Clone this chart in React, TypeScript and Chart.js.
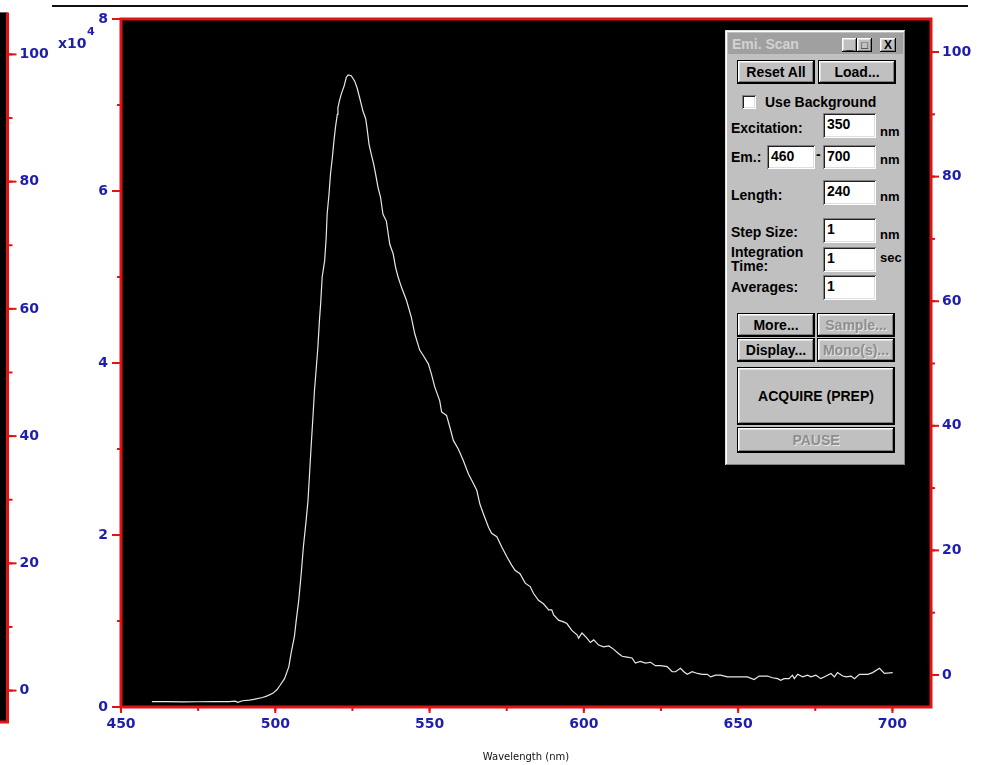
import React, { useEffect, useRef } from 'react';
import { Chart, registerables } from 'chart.js';

Chart.register(...registerables);

// ---- data (wavelength in nm, intensity in units of 10^4 counts) ----
const wavelengths = [
  460, 465, 470, 475, 480, 485.1, 487.0, 487.8, 489.4, 491.6,
  493.0, 495.9, 497.4, 499.2, 500.5, 501.5, 503.0, 504.4, 505.1, 506.2,
  506.8, 507.6, 508.4, 509.1, 510.0, 510.6, 511.1, 511.6, 512.2, 512.7,
  513.3, 513.8, 514.3, 514.7, 515.2, 516.0, 516.5, 516.8, 517.4, 517.9,
  518.5, 519.0, 519.5, 520.1, 520.3, 520.8, 521.4, 522.3, 523.0, 523.6,
  524.6, 525.7, 526.5, 527.3, 528.4, 529.3, 529.7, 530.4, 531.1, 531.9,
  532.5, 533.3, 534.1, 534.9, 536.0, 536.6, 537.1, 538.2, 539.0, 539.8,
  540.9, 542.5, 544.1, 545.2, 546.8, 547.9, 549.6, 550.6, 551.7, 553.3,
  553.9, 555.5, 556.6, 557.7, 559.3, 560.9, 562.6, 564.2, 565.3, 566.3,
  567.4, 569.1, 570.1, 571.8, 573.4, 575.0, 576.6, 577.7, 579.3, 581.0,
  582.6, 583.7, 585.3, 586.9, 588.6, 589.6, 590.2, 591.8, 593.4, 594.5,
  596.1, 597.8, 598.3, 599.4, 601.0, 602.1, 603.2, 604.8, 606.4, 608.1,
  609.7, 611.3, 612.4, 614.0, 615.6, 616.7, 618.3, 620.0, 621.6, 623.2,
  624.8, 627.0, 628.6, 629.7, 631.3, 632.4, 633.5, 635.1, 636.8, 638.4,
  640.0, 641.1, 642.7, 644.3, 646.5, 648.7, 650.8, 653.0, 655.2, 656.8,
  659.5, 661.1, 662.8, 663.8, 664.9, 666.5, 667.6, 668.2, 669.3, 670.9,
  672.5, 673.6, 675.2, 676.8, 678.5, 680.1, 681.2, 682.2, 683.9, 685.0,
  686.6, 687.7, 689.3, 692.0, 693.6, 695.8, 697.4, 700.1,
];

const intensity = [
  0.062, 0.062, 0.060, 0.061, 0.062, 0.062, 0.068, 0.055, 0.073, 0.081,
  0.088, 0.110, 0.130, 0.159, 0.20, 0.25, 0.33, 0.47, 0.62, 0.82,
  1.01, 1.24, 1.55, 1.86, 2.17, 2.40, 2.71, 3.02, 3.37, 3.68,
  3.95, 4.18, 4.49, 4.69, 5.00, 5.19, 5.46, 5.73, 5.96, 6.20,
  6.39, 6.58, 6.74, 6.89, 6.97, 7.05, 7.13, 7.22, 7.32, 7.35,
  7.34, 7.28, 7.20, 7.09, 6.93, 6.84, 6.74, 6.54, 6.43, 6.31,
  6.20, 6.04, 5.93, 5.73, 5.65, 5.50, 5.38, 5.27, 5.11, 5.00,
  4.88, 4.73, 4.53, 4.34, 4.15, 4.09, 3.99, 3.87, 3.72, 3.56,
  3.43, 3.39, 3.25, 3.10, 3.00, 2.87, 2.71, 2.60, 2.52, 2.36,
  2.25, 2.09, 2.02, 1.98, 1.86, 1.75, 1.65, 1.59, 1.55, 1.44,
  1.40, 1.32, 1.24, 1.20, 1.13, 1.13, 1.07, 1.01, 0.99, 0.97,
  0.89, 0.84, 0.80, 0.86, 0.80, 0.75, 0.78, 0.72, 0.70, 0.71,
  0.67, 0.62, 0.59, 0.58, 0.57, 0.51, 0.53, 0.51, 0.52, 0.48,
  0.48, 0.47, 0.41, 0.41, 0.45, 0.41, 0.38, 0.41, 0.39, 0.38,
  0.38, 0.35, 0.37, 0.37, 0.35, 0.35, 0.35, 0.35, 0.32, 0.36,
  0.36, 0.34, 0.33, 0.31, 0.33, 0.33, 0.37, 0.33, 0.38, 0.35,
  0.37, 0.35, 0.37, 0.33, 0.36, 0.39, 0.35, 0.40, 0.36, 0.35,
  0.36, 0.33, 0.38, 0.38, 0.40, 0.45, 0.39, 0.40,
];

// tick labels
const xTickLabels = [450, 500, 550, 600, 650, 700];
const leftTickLabels = [0, 2, 4, 6, 8];
const rightTickLabels = [0, 20, 40, 60, 80, 100];
const sidePanelTickLabels = [0, 20, 40, 60, 80, 100];

const RED = '#e01414';
const BLUE = '#1e1eae';
const TICK_FONT = { family: "'DejaVu Sans', sans-serif", size: 14, weight: 'bold' as const };
const UI_FONT = '"Liberation Sans", Arial, sans-serif';
const NONE = 'rgba(0,0,0,0)';

function strokeLine(ctx: any, x1: number, y1: number, x2: number, y2: number) {
  ctx.beginPath();
  ctx.moveTo(x1, y1);
  ctx.lineTo(x2, y2);
  ctx.stroke();
}

const mainPlugin = {
  id: 'mainFrame',
  beforeDraw(chart: any) {
    const { ctx, chartArea: a } = chart;
    ctx.save();
    ctx.fillStyle = '#000';
    ctx.fillRect(a.left, a.top, a.right - a.left, a.bottom - a.top);
    ctx.restore();
  },
  afterDraw(chart: any) {
    const { ctx, chartArea: a, scales } = chart;
    ctx.save();
    ctx.strokeStyle = RED;
    ctx.lineWidth = 2;
    // minor ticks at every scale step
    scales.x.ticks.forEach((t: any) => {
      const p = scales.x.getPixelForValue(t.value);
      strokeLine(ctx, p, a.bottom, p, a.bottom + 4);
    });
    scales.y.ticks.forEach((t: any) => {
      const p = scales.y.getPixelForValue(t.value);
      strokeLine(ctx, a.left - 4, p, a.left, p);
    });
    scales.y2.ticks.forEach((t: any) => {
      const p = scales.y2.getPixelForValue(t.value);
      strokeLine(ctx, a.right, p, a.right + 4, p);
    });
    // longer ticks at labelled values
    xTickLabels.forEach((v) => {
      const p = scales.x.getPixelForValue(v);
      strokeLine(ctx, p, a.bottom, p, a.bottom + 6);
    });
    leftTickLabels.forEach((v) => {
      const p = scales.y.getPixelForValue(v);
      strokeLine(ctx, a.left - 9, p, a.left, p);
    });
    rightTickLabels.forEach((v) => {
      const p = scales.y2.getPixelForValue(v);
      strokeLine(ctx, a.right, p, a.right + 8, p);
    });
    ctx.lineWidth = 3;
    ctx.strokeRect(a.left, a.top, a.right - a.left, a.bottom - a.top);
    ctx.restore();
  },
};

const sidePlugin = {
  id: 'sideFrame',
  beforeDraw(chart: any) {
    const { ctx, chartArea: a } = chart;
    ctx.save();
    ctx.fillStyle = '#000';
    ctx.fillRect(a.left, a.top, a.right - a.left, a.bottom - a.top);
    ctx.restore();
  },
  afterDraw(chart: any) {
    const { ctx, chartArea: a, scales } = chart;
    ctx.save();
    ctx.strokeStyle = RED;
    ctx.lineWidth = 2;
    scales.y.ticks.forEach((t: any) => {
      const p = scales.y.getPixelForValue(t.value);
      strokeLine(ctx, a.right, p, a.right + 5, p);
    });
    sidePanelTickLabels.forEach((v) => {
      const p = scales.y.getPixelForValue(v);
      strokeLine(ctx, a.right, p, a.right + 9, p);
    });
    ctx.lineWidth = 3;
    ctx.beginPath();
    ctx.moveTo(a.right, a.top);
    ctx.lineTo(a.right, a.bottom);
    ctx.lineTo(a.left, a.bottom);
    ctx.stroke();
    ctx.restore();
  },
};

const raised = 'inset -1px -1px #000, inset 1px 1px #fff, inset -2px -2px #808080, inset 2px 2px #dfdfdf';
const sunken = 'inset 1px 1px #808080, inset -1px -1px #fff, inset 2px 2px #202020, inset -2px -2px #dfdfdf';

function Btn(p: { x: number; y: number; w: number; h: number; text: string; disabled?: boolean; border?: boolean; size?: number }) {
  return (
    <div
      style={{
        position: 'absolute', left: p.x, top: p.y, width: p.w, height: p.h, boxSizing: 'border-box',
        background: '#c0c0c0', boxShadow: raised, border: p.border === false ? 'none' : '1px solid #000',
        display: 'flex', alignItems: 'center', justifyContent: 'center',
        font: `bold ${p.size || 14}px ${UI_FONT}`, whiteSpace: 'nowrap',
        color: p.disabled ? '#8e8e8e' : '#000', textShadow: p.disabled ? '1px 1px 0 #e6e6e6' : 'none',
      }}
    >
      {p.text}
    </div>
  );
}

function Field(p: { x: number; y: number; w: number; h: number; value: string }) {
  return (
    <div
      style={{
        position: 'absolute', left: p.x, top: p.y, width: p.w, height: p.h, boxSizing: 'border-box',
        background: '#fff', boxShadow: sunken,
      }}
    >
      <div style={{ position: 'absolute', left: 4, top: 3, lineHeight: '16px', font: `bold 14px ${UI_FONT}`, color: '#000' }}>{p.value}</div>
    </div>
  );
}

function Txt(p: { x: number; cy: number; text: string; size?: number; color?: string }) {
  return (
    <div
      style={{
        position: 'absolute', left: p.x, top: p.cy - 8, lineHeight: '16px', whiteSpace: 'nowrap',
        font: `bold ${p.size || 14}px ${UI_FONT}`, color: p.color || '#000',
      }}
    >
      {p.text}
    </div>
  );
}

function Dialog() {
  return (
    <>
      <div style={{ position: 'absolute', left: 725, top: 30, width: 181, height: 436, background: '#c0c0c0', boxShadow: 'inset -1px -1px #000, inset 1px 1px #dfdfdf, inset -2px -2px #808080, inset 2px 2px #fff' }} />
      <div style={{ position: 'absolute', left: 728, top: 33, width: 175, height: 21, background: '#a0a0a0' }} />
      <Txt x={732} cy={44} text="Emi. Scan" color="#d2d2d2" />
      <Btn x={842} y={38} w={15} h={14} text="_" border={false} size={12} />
      <Btn x={857} y={38} w={15} h={14} text="□" border={false} size={11} />
      <Btn x={880} y={38} w={16} h={14} text="X" border={false} size={12} />

      <Btn x={737} y={60} w={78} h={24} text="Reset All" />
      <Btn x={818} y={60} w={78} h={24} text="Load..." />

      <div style={{ position: 'absolute', left: 742, top: 95, width: 14, height: 14, background: '#fff', boxShadow: sunken }} />
      <Txt x={765} cy={102} text="Use Background" />

      <Txt x={731} cy={128} text="Excitation:" />
      <Field x={823} y={113} w={53} h={25} value="350" />
      <Txt x={880} cy={132} text="nm" size={13} />

      <Txt x={731} cy={157} text="Em.:" />
      <Field x={767} y={145} w={48} h={24} value="460" />
      <Txt x={816} cy={154} text="-" />
      <Field x={823} y={145} w={53} h={24} value="700" />
      <Txt x={880} cy={160} text="nm" size={13} />

      <Txt x={731} cy={195} text="Length:" />
      <Field x={823} y={180} w={53} h={25} value="240" />
      <Txt x={880} cy={197} text="nm" size={13} />

      <Txt x={731} cy={232} text="Step Size:" />
      <Field x={823} y={218} w={53} h={25} value="1" />
      <Txt x={880} cy={235} text="nm" size={13} />

      <Txt x={731} cy={252} text="Integration" />
      <Txt x={731} cy={266} text="Time:" />
      <Field x={823} y={247} w={53} h={25} value="1" />
      <Txt x={880} cy={258} text="sec" size={13} />

      <Txt x={731} cy={287} text="Averages:" />
      <Field x={823} y={275} w={53} h={25} value="1" />

      <Btn x={737} y={313} w={78} h={24} text="More..." />
      <Btn x={817} y={313} w={78} h={24} text="Sample..." disabled />
      <Btn x={737} y={338} w={78} h={24} text="Display..." />
      <Btn x={817} y={338} w={78} h={24} text="Mono(s)..." disabled />
      <Btn x={737} y={367} w={158} h={58} text="ACQUIRE (PREP)" />
      <Btn x={737} y={427} w={158} h={26} text="PAUSE" disabled />
    </>
  );
}

export default function App() {
  const mainRef = useRef<HTMLCanvasElement | null>(null);
  const sideRef = useRef<HTMLCanvasElement | null>(null);

  useEffect(() => {
    const points = wavelengths.map((w, i) => ({ x: w, y: intensity[i] }));

    const main = new Chart(mainRef.current as HTMLCanvasElement, {
      type: 'line',
      data: {
        datasets: [
          {
            data: points,
            borderColor: '#e8e8e8',
            borderWidth: 1.2,
            pointRadius: 0,
            tension: 0,
            fill: false,
            yAxisID: 'y',
            xAxisID: 'x',
          },
        ],
      },
      options: {
        animation: false,
        responsive: false,
        devicePixelRatio: 1,
        layout: { padding: { top: 19, left: 0, right: 0, bottom: 0 } },
        plugins: { legend: { display: false }, tooltip: { enabled: false } },
        scales: {
          x: {
            type: 'linear',
            min: 450,
            max: 712.5,
            afterFit: (s: any) => { s.height = 58; },
            border: { display: false },
            grid: { drawOnChartArea: false, drawTicks: true, tickLength: 5, tickColor: NONE },
            ticks: {
              stepSize: 25, includeBounds: false, autoSkip: false, maxRotation: 0, padding: 4,
              color: BLUE, font: TICK_FONT,
              callback: (v: any) => (xTickLabels.includes(Number(v)) ? String(v) : ''),
            },
            title: {
              display: true, text: 'Wavelength (nm)', color: '#111',
              font: { family: "'DejaVu Sans', sans-serif", size: 10 }, padding: { top: 0, bottom: 2 },
            },
          },
          y: {
            type: 'linear',
            position: 'left',
            min: 0,
            max: 8,
            afterFit: (s: any) => { s.width = 121; },
            border: { display: false },
            grid: { drawOnChartArea: false, drawTicks: true, tickLength: 9, tickColor: NONE },
            ticks: {
              stepSize: 1, autoSkip: false, padding: 4, color: BLUE, font: TICK_FONT,
              callback: (v: any) => (leftTickLabels.includes(Number(v)) ? String(v) : ''),
            },
          },
          y2: {
            type: 'linear',
            position: 'right',
            min: -5.14,
            max: 105.3,
            afterFit: (s: any) => { s.width = 51; },
            border: { display: false },
            grid: { drawOnChartArea: false, drawTicks: true, tickLength: 7, tickColor: NONE },
            ticks: {
              stepSize: 10, includeBounds: false, autoSkip: false, padding: 4, color: BLUE, font: TICK_FONT,
              callback: (v: any) => (rightTickLabels.includes(Number(v)) ? String(v) : ''),
            },
          },
        },
      },
      plugins: [mainPlugin],
    } as any);

    const side = new Chart(sideRef.current as HTMLCanvasElement, {
      type: 'line',
      data: { datasets: [] },
      options: {
        animation: false,
        responsive: false,
        devicePixelRatio: 1,
        layout: { padding: { top: 0, left: 0, right: 0, bottom: 43 } },
        plugins: { legend: { display: false }, tooltip: { enabled: false } },
        scales: {
          x: { type: 'linear', display: false, min: 0, max: 1 },
          y: {
            type: 'linear',
            position: 'right',
            min: -4.94,
            max: 106.6,
            afterFit: (s: any) => { s.width = 48.5; },
            border: { display: false },
            grid: { drawOnChartArea: false, drawTicks: true, tickLength: 8, tickColor: NONE },
            ticks: {
              stepSize: 10, includeBounds: false, autoSkip: false, padding: 4, color: BLUE, font: TICK_FONT,
              callback: (v: any) => (sidePanelTickLabels.includes(Number(v)) ? String(v) : ''),
            },
          },
        },
      },
      plugins: [sidePlugin],
    } as any);

    return () => {
      main.destroy();
      side.destroy();
    };
  }, []);

  return (
    <div style={{ position: 'absolute', left: 0, top: 0, width: 982, height: 765, overflow: 'hidden', background: '#fff' }}>
      <canvas ref={mainRef} width={982} height={765} style={{ position: 'absolute', left: 0, top: 0 }} />
      <canvas ref={sideRef} width={56} height={765} style={{ position: 'absolute', left: 0, top: 0 }} />
      <div style={{ position: 'absolute', left: 52, top: 5, width: 916, height: 2, background: '#111' }} />
      <div style={{ position: 'absolute', left: 58, top: 35, lineHeight: '16px', font: "bold 14px 'DejaVu Sans', sans-serif", color: BLUE }}>x10</div>
      <div style={{ position: 'absolute', left: 87, top: 25, lineHeight: '13px', font: "bold 11px 'DejaVu Sans', sans-serif", color: BLUE }}>4</div>
      <Dialog />
    </div>
  );
}
